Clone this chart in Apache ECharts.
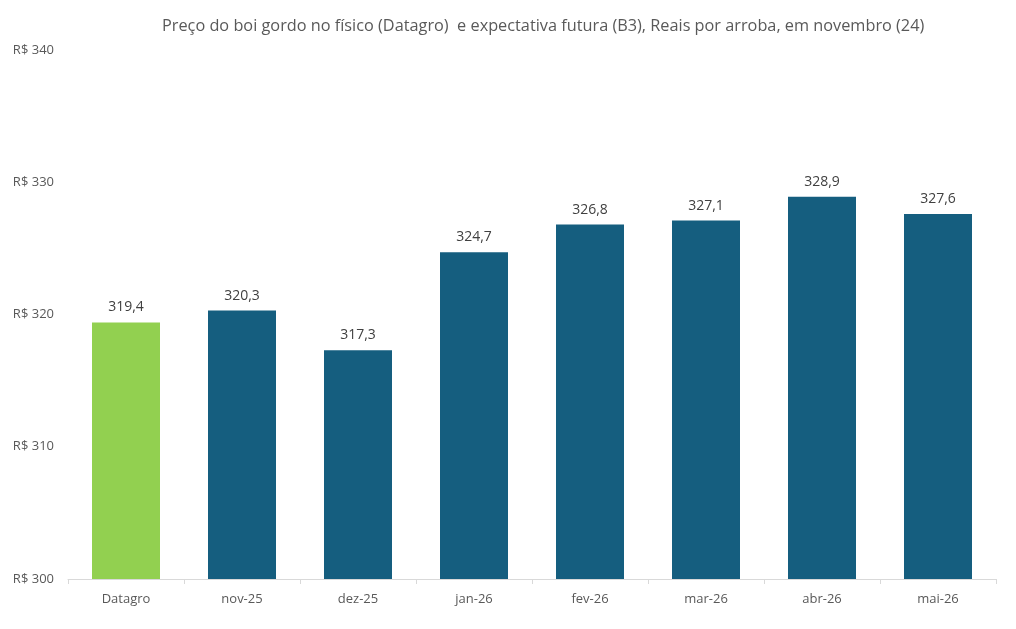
<!DOCTYPE html>
<html><head><meta charset="utf-8">
<script src="https://cdn.jsdelivr.net/npm/echarts@6/dist/echarts.min.js"></script>
<style>html,body{margin:0;padding:0;background:#fff}#c{width:1016px;height:629px}</style>
</head><body><div id="c"></div>
<script>
const categories = ['Datagro','nov-25','dez-25','jan-26','fev-26','mar-26','abr-26','mai-26'];
const values = [319.4, 320.3, 317.3, 324.7, 326.8, 327.1, 328.9, 327.6];
const colors = ['#92D050','#155E7F','#155E7F','#155E7F','#155E7F','#155E7F','#155E7F','#155E7F'];
const titleText = 'Preço do boi gordo no físico (Datagro)  e expectativa futura (B3), Reais por arroba, em novembro (24)';

const chart = echarts.init(document.getElementById('c'));
chart.setOption({
  animation: false,
  title: {
    text: titleText, left: 157, top: 13,
    textStyle: {fontFamily: 'Open Sans', fontSize: 16.3, fontWeight: 'normal', color: '#595959'}
  },
  grid: {left: 68, right: 20, top: 50, bottom: 50},
  xAxis: {
    type: 'category', data: categories,
    axisLine: {lineStyle: {color: '#D9D9D9'}},
    axisTick: {show: true, alignWithLabel: false, length: 5, lineStyle: {color: '#D9D9D9'}},
    axisLabel: {color: '#595959', fontFamily: 'Open Sans', fontSize: 13, margin: 14}
  },
  yAxis: {
    type: 'value', min: 300, max: 340, interval: 10,
    splitLine: {show: false},
    axisLine: {show: false}, axisTick: {show: false},
    axisLabel: {color: '#595959', fontFamily: 'Open Sans', fontSize: 13, margin: 14,
      formatter: v => 'R$ ' + v}
  },
  series: [{
    type: 'bar', barWidth: 68,
    data: values.map((v, i) => ({value: v, itemStyle: {color: colors[i]}})),
    label: {show: true, position: 'top', distance: 8, color: '#404040',
      fontFamily: 'Open Sans', fontSize: 14,
      formatter: p => p.value.toFixed(1).replace('.', ',')}
  }]
});
</script></body></html>
